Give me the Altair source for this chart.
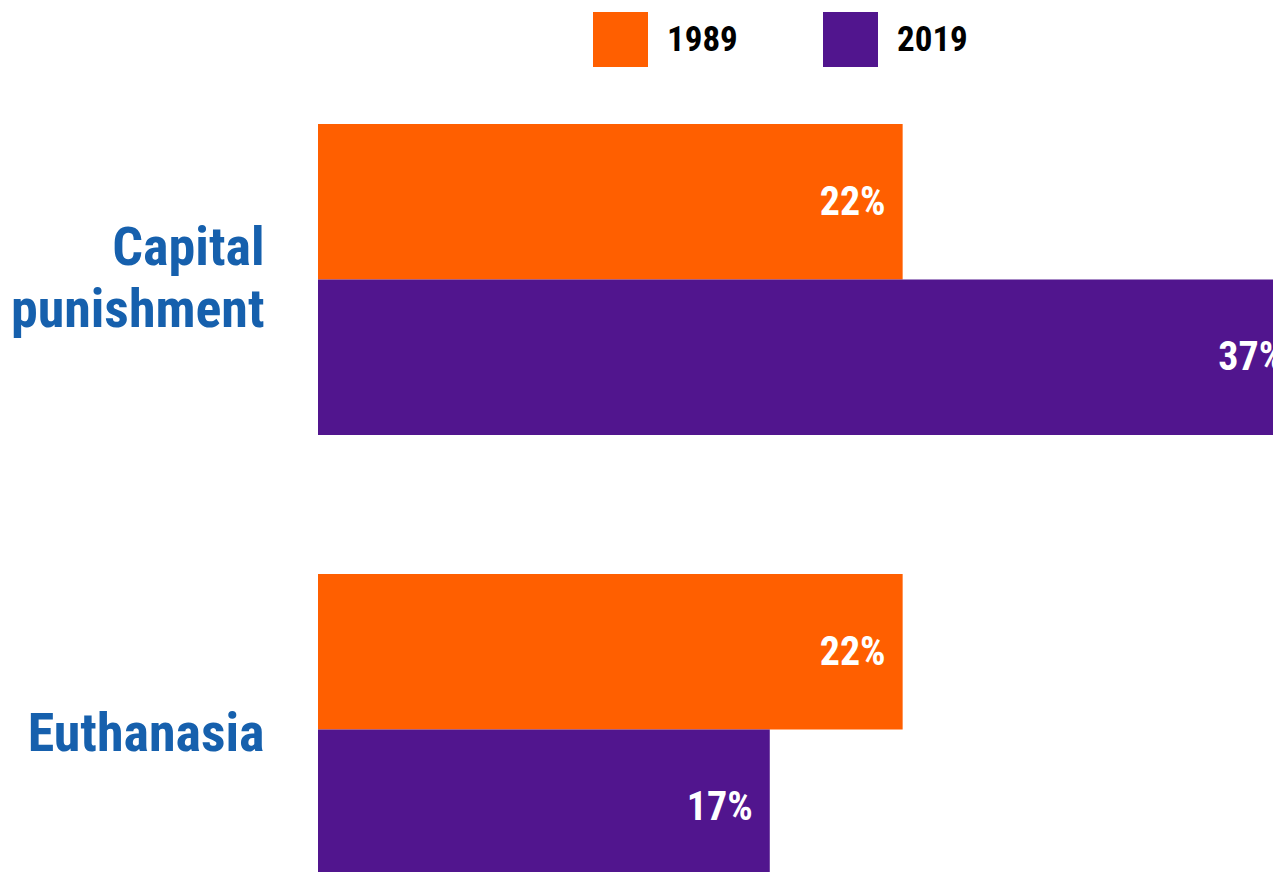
import altair as alt
import pandas as pd

categories = ["Capital punishment", "Euthanasia"]
years = ["1989", "2019"]
values_1989 = [22, 22]
values_2019 = [37, 17]
colors = ["#FF5F00", "#51158E"]

rows = []
for i, c in enumerate(categories):
    rows.append({"issue": c, "year": years[0], "value": values_1989[i], "label": f"{values_1989[i]}%"})
    rows.append({"issue": c, "year": years[1], "value": values_2019[i], "label": f"{values_2019[i]}%"})
df = pd.DataFrame(rows)

FONT = "Roboto Condensed, DejaVu Sans Condensed, sans-serif"

x_enc = alt.X("value:Q", axis=None,
              scale=alt.Scale(domain=[0, 40], range=[0, 1063], nice=False, zero=True))
y_enc = alt.Y("issue:N", sort=categories, title=None,
              scale=alt.Scale(range=[0, 761], paddingInner=0.309, paddingOuter=0),
              axis=alt.Axis(labelExpr="split(datum.label, ' ')", labelFont=FONT,
                            labelFontSize=54, labelFontWeight="bold", labelColor="#1660AD",
                            labelPadding=54, labelLimit=500, labelLineHeight=62,
                            labelOffset={"condition": {"test": "indexof(datum.label, ' ') >= 0",
                                                       "value": -30},
                                         "value": 5},
                            ticks=False, domain=False, grid=False, labelBaseline="middle"))
yoff = alt.YOffset("year:N", sort=years, scale=alt.Scale(paddingInner=0, paddingOuter=0))

bars = alt.Chart(df).mark_bar(cornerRadius=0).encode(
    x=x_enc,
    y=y_enc,
    yOffset=yoff,
    color=alt.Color("year:N", sort=years,
                    scale=alt.Scale(domain=years, range=colors),
                    legend=alt.Legend(title=None, orient="none", legendX=275, legendY=-112,
                                      direction="horizontal", symbolType="square",
                                      symbolSize=3025, symbolStrokeWidth=0, symbolOpacity=1,
                                      labelFont=FONT, labelFontSize=35, labelFontWeight="bold",
                                      labelColor="#000000", labelOffset=19, columnPadding=85,
                                      padding=0, labelLimit=300)),
)

labels = alt.Chart(df).mark_text(align="right", baseline="middle", dx=-17, dy=1,
                                  font=FONT, fontSize=40, fontWeight="bold",
                                  color="white").encode(
    x=x_enc,
    y=y_enc,
    yOffset=yoff,
    text="label:N",
)

chart = alt.layer(bars, labels).properties(
    width=955, height=748,
    autosize=alt.AutoSizeParams(type="none"),
    padding={"left": 310, "top": 116, "right": 0, "bottom": 0},
    background="white",
).configure_view(stroke=None)

chart.save("out.html", embed_options={"renderer": "svg", "actions": False})
